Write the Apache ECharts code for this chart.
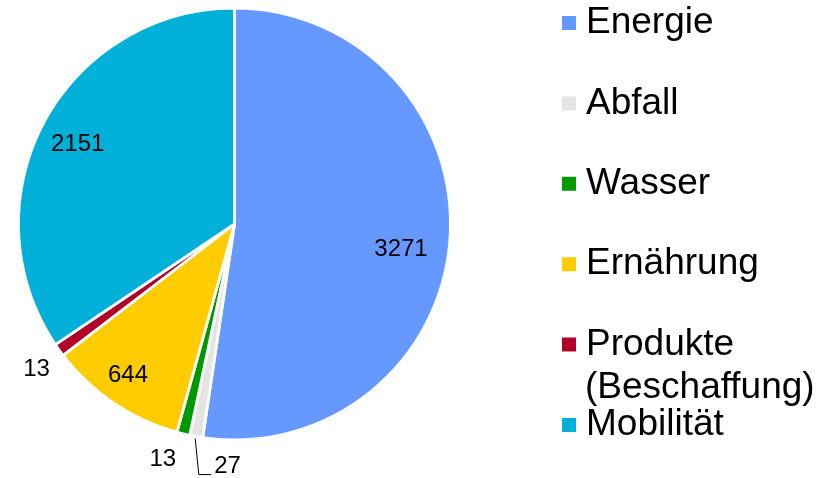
<!DOCTYPE html>
<html>
<head>
<meta charset="utf-8">
<script src="https://cdn.jsdelivr.net/npm/echarts@6/dist/echarts.min.js"></script>
<style>
  html, body { margin: 0; padding: 0; background: #fff; }
  #main { width: 824px; height: 478px; }
</style>
</head>
<body>
<div id="main"></div>
<script>
// data
var categories = ['Energie', 'Abfall', 'Wasser', 'Ernährung', 'Produkte (Beschaffung)', 'Mobilität'];
var values = [3271, 27, 13, 644, 13, 2151];
var colors = ['#6699FF', '#E4E4E4', '#009A00', '#FFCC00', '#B0002A', '#00B0D8'];

// label placement (style only)
var labelPlace = ['inside', 'outside', 'inside', 'inside', 'inside', 'inside'];
var labelDist = [0.78, 0, 1.14, 0.855, 1.137, 0.815];   // fraction of radius
var labelTurn = [4.6, 0, 3.2, 1.2, -0.6, -1.0];         // degrees

var FONT = "'Liberation Sans', Arial, sans-serif";
var CX = 234.5, CY = 224, R = 216;

var myChart = echarts.init(document.getElementById('main'));

var pieData = categories.map(function (name, i) {
  return {
    name: name,
    value: values[i],
    itemStyle: { color: colors[i] },
    label: { position: labelPlace[i] },
    labelLine: { show: labelPlace[i] === 'outside' }
  };
});

myChart.setOption({
  animation: false,
  legend: {
    orient: 'vertical',
    left: 560,
    top: 3,
    padding: 0,
    itemGap: 40.4,
    itemWidth: 16,
    itemHeight: 16,
    icon: 'rect',
    selectedMode: false,
    data: categories,
    formatter: function (name) { return name.split(' (')[0]; },
    textStyle: {
      fontFamily: FONT,
      fontSize: 37,
      lineHeight: 40,
      color: '#000',
      padding: [0, 0, 0, 4]
    }
  },
  graphic: [{
    type: 'text',
    x: 585,
    y: 388,
    style: {
      text: '(' + categories[4].split(' (')[1],
      fontFamily: FONT,
      fontSize: 37,
      fill: '#000',
      align: 'left',
      verticalAlign: 'middle'
    }
  }],
  series: [{
    type: 'pie',
    center: [CX, CY],
    radius: R,
    startAngle: 90,
    clockwise: true,
    minAngle: 3.5,
    avoidLabelOverlap: false,
    itemStyle: { borderColor: '#fff', borderWidth: 2.8 },
    label: {
      show: true,
      formatter: '{c}',
      color: '#000',
      fontFamily: FONT,
      fontSize: 24
    },
    labelLine: { lineStyle: { color: '#000', width: 1 } },
    labelLayout: function (p) {
      var i = p.dataIndex;
      if (labelPlace[i] === 'outside') {
        var p0 = p.labelLinePoints[0];
        return {
          x: p0[0] + 18,
          y: p0[1] + 30,
          align: 'left',
          verticalAlign: 'middle',
          labelLinePoints: [[p0[0] - 1, p0[1] + 2], [p0[0] + 2.6, p0[1] + 38], [p0[0] + 15, p0[1] + 38]]
        };
      }
      var lx = p.labelRect.x + p.labelRect.width / 2 - CX;
      var ly = p.labelRect.y + p.labelRect.height / 2 - CY;
      var a = Math.atan2(lx, -ly) + labelTurn[i] * Math.PI / 180;
      var d = labelDist[i] * R;
      return { x: CX + d * Math.sin(a), y: CY - d * Math.cos(a) };
    },
    data: pieData
  }]
});
</script>
</body>
</html>
